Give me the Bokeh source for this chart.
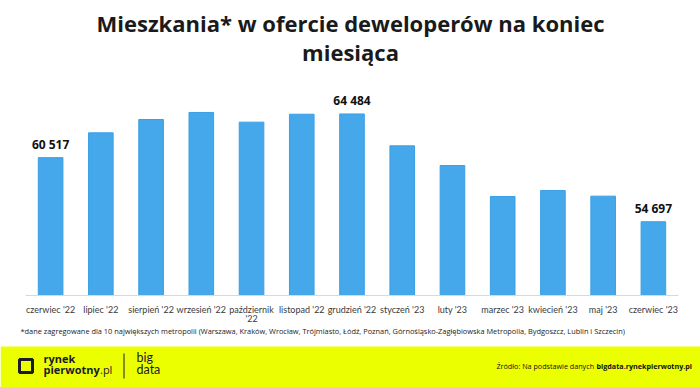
from bokeh.plotting import figure
from bokeh.models import ColumnDataSource, Range1d, FactorRange, CategoricalAxis, CustomJSTickFormatter
from bokeh.layouts import column
from bokeh.core.properties import value
from bokeh.embed import file_html
from bokeh.resources import INLINE

# ---- data ----
months = ["czerwiec '22", "lipiec '22", "sierpień '22", "wrzesień '22", "październik '22",
          "listopad '22", "grudzień '22", "styczeń '23", "luty '23", "marzec '23",
          "kwiecień '23", "maj '23", "czerwiec '23"]
flats = [60517, 62770, 63980, 64620, 63740, 64460, 64484, 61590, 59800, 56990, 57530, 57020, 54697]
labelled = [0, 6, 12]
wrapped = {"październik '22": ("październik", "'22")}
title_lines = ["Mieszkania* w ofercie deweloperów na koniec", "miesiąca"]
footnote = ("*dane zagregowane dla 10 największych metropolii (Warszawa, Kraków, Wrocław, Trójmiasto, "
            "Łódź, Poznań, Górnośląsko-Zagłębiowska Metropolia, Bydgoszcz, Lublin i Szczecin)")
source_plain = "Źródło: Na podstawie danych"
source_bold = "bigdata.rynekpierwotny.pl"

FONT = "Open Sans"
LFONT = "Lato"
BAR = "#45A8EB"
BAND = "#EBFF00"
DARK = "#1b1b2b"
W = 700

value_labels = [f"{v:,}".replace(",", " ") if i in labelled else "" for i, v in enumerate(flats)]
src = ColumnDataSource(dict(m=months, v=flats, lab=value_labels))

JS_MAP = """
const v = (m instanceof Map) ? m.get(tick) : m[tick];
return (v === undefined) ? tick : v;
"""

# ---- header (title) ----
h = figure(width=W, height=70, x_range=Range1d(0, W), y_range=Range1d(70, 0),
           output_backend="svg", toolbar_location=None, x_axis_location=None,
           y_axis_location=None, min_border=0, frame_align=False)
h.outline_line_color = None
h.xgrid.visible = False
h.ygrid.visible = False
h.text(x=[350, 350], y=[22.5, 51.5], text=title_lines, text_align="center",
       text_baseline="middle", text_font=value(FONT), text_font_style="bold",
       text_font_size="22px", text_color="#1a1a1a")

# ---- main chart ----
Y0 = 48000
PER_PX = 90.8
FRAME_H = 225

p = figure(x_range=FactorRange(*months), y_range=Range1d(Y0, Y0 + PER_PX * FRAME_H),
           width=W, frame_height=FRAME_H, y_axis_location=None,
           output_backend="svg", toolbar_location=None, frame_align=False,
           min_border_left=25, min_border_right=22, min_border_top=0, min_border_bottom=31)
p.outline_line_color = None
p.xgrid.grid_line_color = None
p.ygrid.grid_line_color = None

p.vbar(x="m", top="v", bottom=Y0, width=0.49, source=src,
       fill_color=BAR, line_color="#3A9FE6", line_width=1)
p.text(x="m", y="v", text="lab", source=src, text_align="center", text_baseline="middle",
       y_offset=-13, text_font=value(FONT), text_font_style="bold",
       text_font_size="12px", text_color="#111111")

ax = p.xaxis[0]
ax.axis_line_color = "#d9d9d9"
ax.axis_line_width = 1
ax.major_tick_line_color = None
ax.minor_tick_line_color = None
ax.major_tick_out = 0
ax.major_tick_in = 0
ax.major_label_standoff = 8
ax.major_label_text_font = LFONT
ax.major_label_text_font_size = "9px"
ax.major_label_text_color = "#3a3a3a"
ax.formatter = CustomJSTickFormatter(args=dict(m={k: v[0] for k, v in wrapped.items()}), code=JS_MAP)

ax2 = CategoricalAxis(axis_line_color=None, major_tick_line_color=None,
                      minor_tick_line_color=None, major_tick_out=0, major_tick_in=0,
                      major_label_standoff=-5, major_label_text_font=LFONT,
                      major_label_text_font_size="9px", major_label_text_color="#3a3a3a")
ax2.formatter = CustomJSTickFormatter(
    args=dict(m={mo: (wrapped[mo][1] if mo in wrapped else "") for mo in months}), code=JS_MAP)
p.add_layout(ax2, "below")

# ---- footnote + bottom band ----
b = figure(width=W, height=61, x_range=Range1d(0, W), y_range=Range1d(387, 326),
           output_backend="svg", toolbar_location=None, x_axis_location=None,
           y_axis_location=None, min_border=0, frame_align=False)
b.outline_line_color = None
b.xgrid.visible = False
b.ygrid.visible = False
b.text(x=[20], y=[330.2], text=[footnote], text_baseline="middle",
       text_font=value(FONT), text_font_size="7.4px", text_color="#222222")
b.quad(left=[0], right=[W], top=[346], bottom=[387], fill_color=BAND, line_color=None)

b.rect(x=[25.5], y=[365.5], width=13, height=13, fill_color=None, line_color=DARK, line_width=3)
b.text(x=[43, 43], y=[358.2, 369.2], text=["rynek", "pierwotny"], text_baseline="middle",
       text_font=value(FONT), text_font_style="bold", text_font_size="11px", text_color=DARK)
b.text(x=[99.5], y=[369.2], text=[".pl"], text_baseline="middle",
       text_font=value(FONT), text_font_size="11px", text_color=DARK)
b.segment(x0=[123.5], y0=[353], x1=[123.5], y1=[378], line_color=DARK, line_width=1)
b.text(x=[136, 136], y=[357.1, 368.6], text=["big", "data"], text_baseline="middle",
       text_font=value(LFONT), text_font_size="12.5px", text_color=DARK)
b.text(x=[496], y=[365.2], text=[source_plain], text_baseline="middle",
       text_font=value(FONT), text_font_size="7.2px", text_color="#111111")
b.text(x=[596], y=[365.2], text=[source_bold], text_baseline="middle",
       text_font=value(FONT), text_font_style="bold", text_font_size="7.2px", text_color="#111111")

layout = column(h, p, b, spacing=0)
open("out.html", "w").write(file_html(layout, INLINE))
